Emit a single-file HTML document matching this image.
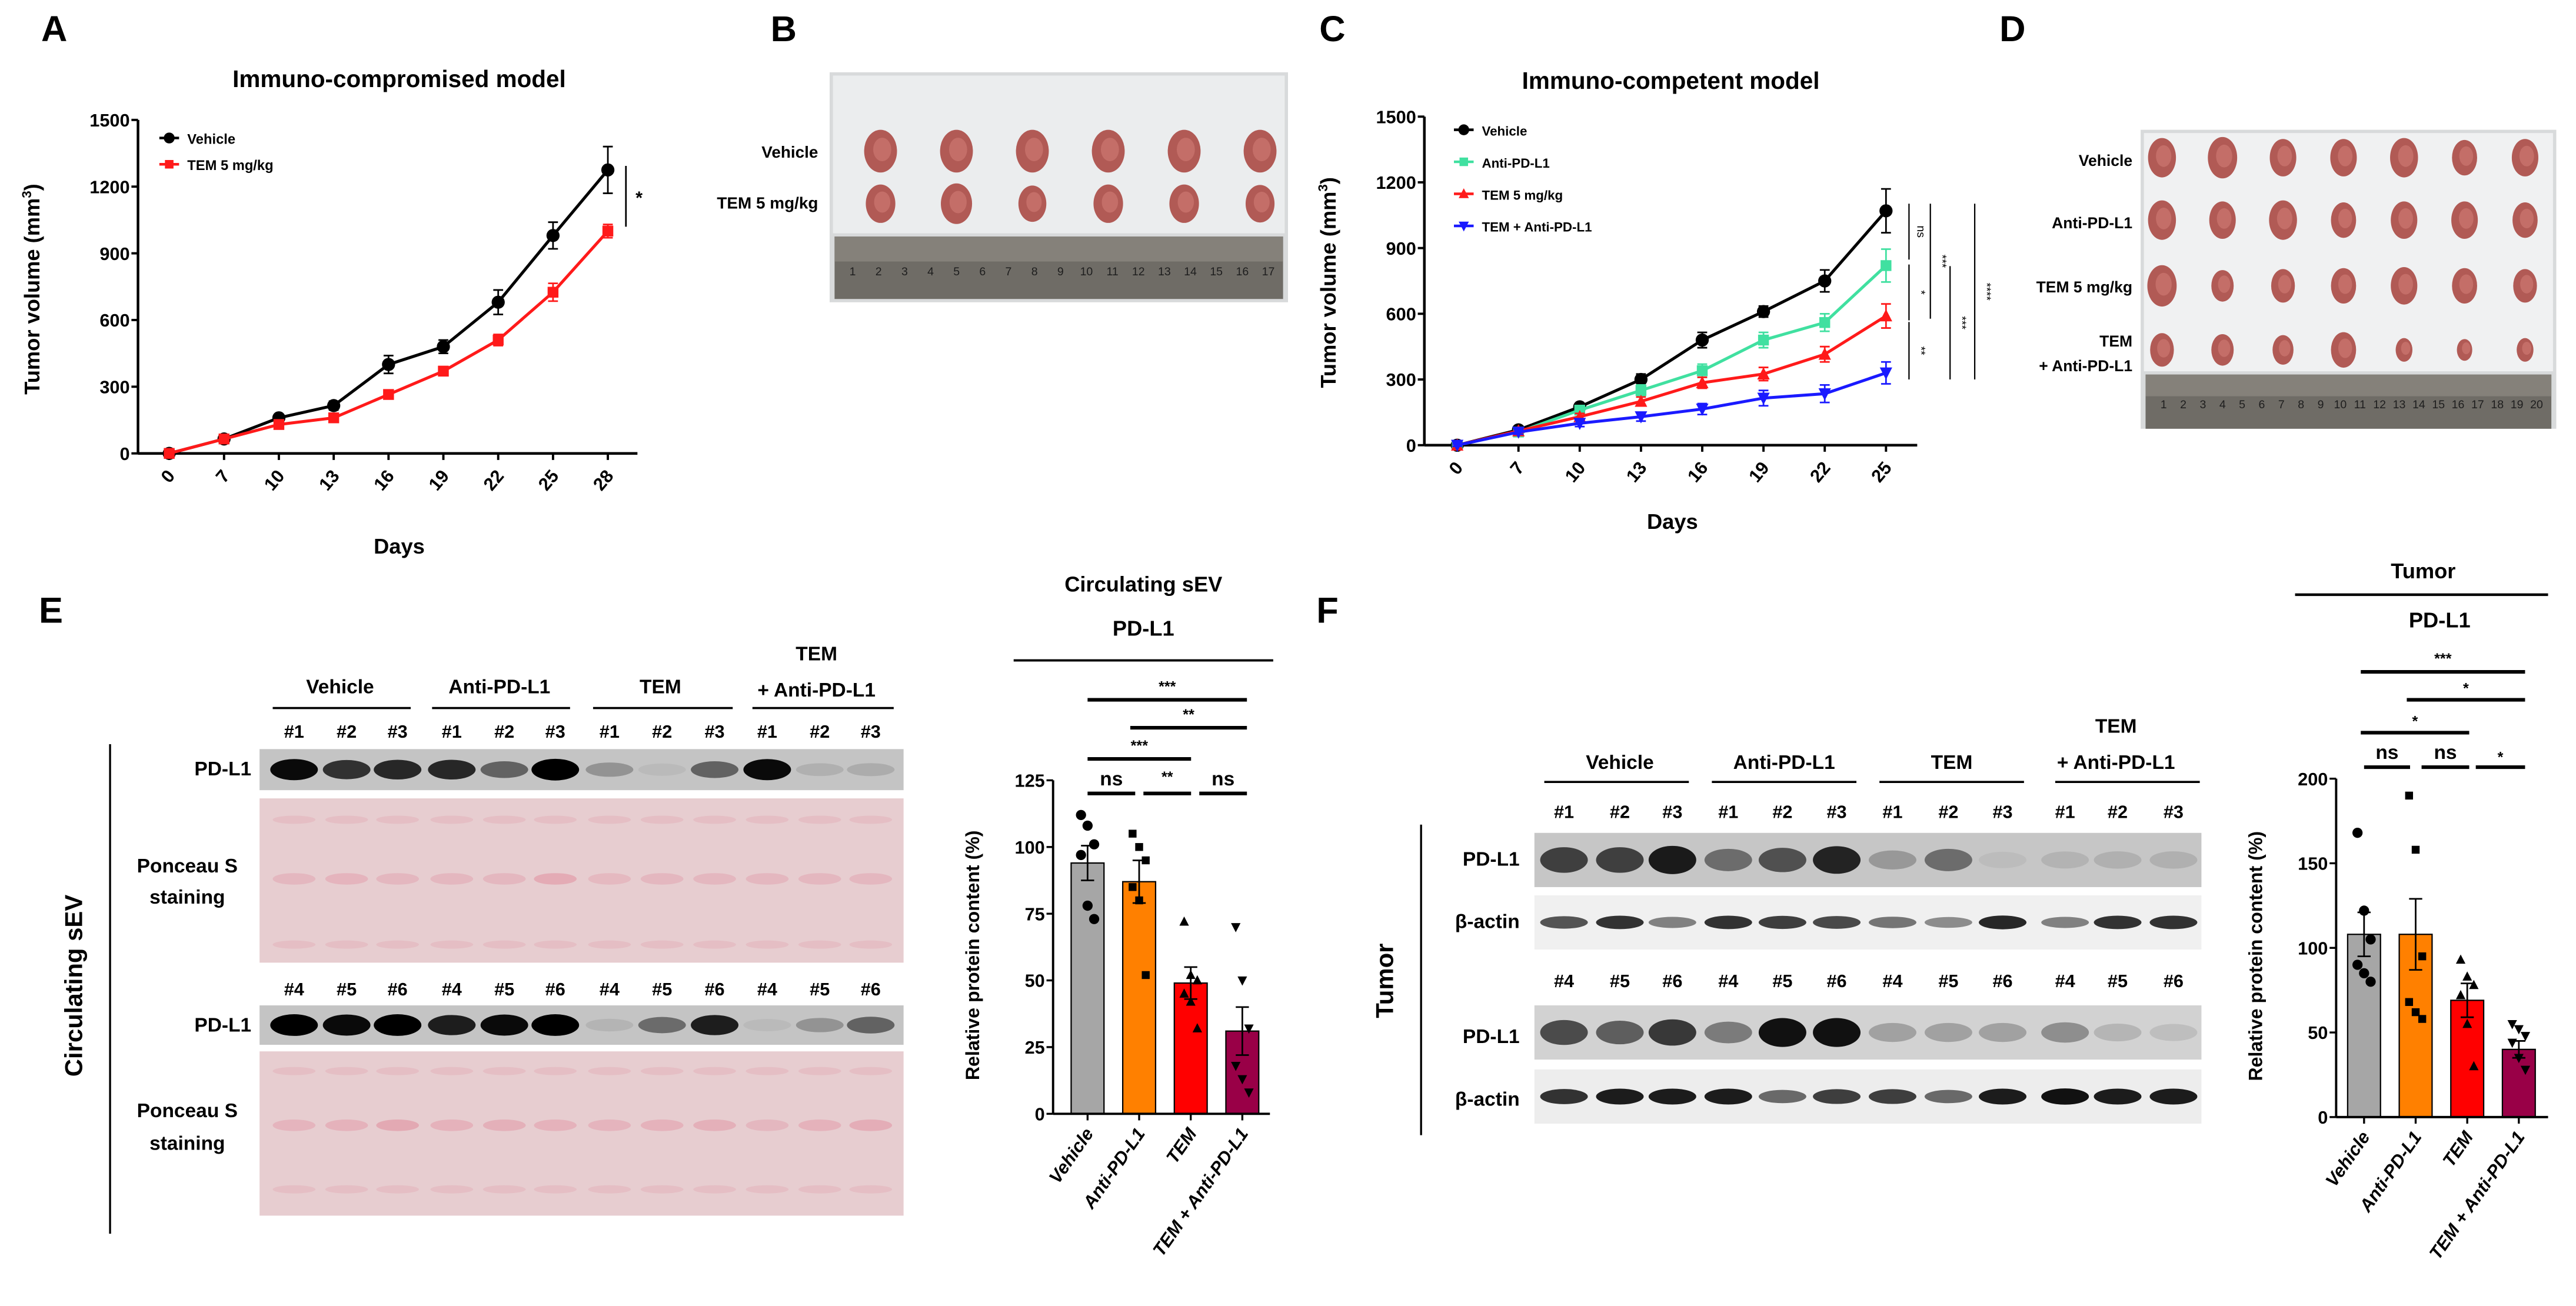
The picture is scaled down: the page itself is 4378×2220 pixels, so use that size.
<!DOCTYPE html>
<html><head><meta charset="utf-8"><style>
html,body{margin:0;padding:0;background:#fff;}
svg{display:block;font-family:"Liberation Sans",sans-serif;font-weight:bold;}
</style></head><body>
<svg id="fig" width="4378" height="2220" viewBox="0 0 1568 795" preserveAspectRatio="none" xmlns="http://www.w3.org/2000/svg">
<rect width="1568" height="795" fill="#fff"/>
<g id="root"></g>
</svg>
<script>
// ===== Panel A data =====
const daysA = [0,7,10,13,16,19,22,25,28];
const vehA = [0,65,160,215,400,480,680,980,1275];
const vehAErr = [5,10,15,20,40,30,55,60,105];
const temA = [0,65,130,160,265,370,510,725,1000];
const temAErr = [5,10,12,15,20,20,25,40,30];
const yTicksA = [0,300,600,900,1200,1500];
// ===== Panel C data =====
const daysC = [0,7,10,13,16,19,22,25];
const vehC = [0,70,175,300,480,610,750,1070];
const vehCErr = [5,10,15,25,35,25,50,100];
const antiC = [0,60,160,250,340,480,560,820];
const antiCErr = [5,10,15,25,30,35,40,75];
const temC = [0,65,130,200,285,325,415,590];
const temCErr = [5,10,15,20,25,30,35,55];
const comboC = [0,60,100,130,165,215,235,330];
const comboCErr = [5,10,15,20,25,35,40,50];
// ===== Panel E bar data =====
const barCats = ["Vehicle","Anti-PD-L1","TEM","TEM + Anti-PD-L1"];
const barColors = ["#a6a6a6","#ff8000","#ff0000","#990047"];
const meansE = [94,87,49,31];
const errE = [6.5,8,6,9];
const ptsE = [[112,108,101,97,78,73],[105,100,95,85,80,52],[72,52,50,45,42,32],[70,50,32,18,13,8]];
const yTicksE = [0,25,50,75,100,125];
// ===== Panel F bar data =====
const meansF = [108,108,69,40];
const errF = [13,21,10,5];
const ptsF = [[168,122,105,90,85,80],[190,158,95,68,62,58],[93,83,78,72,55,30],[55,52,48,44,35,28]];
const yTicksF = [0,50,100,150,200];
// blot intensities (0..1)
const eBlot1 = [0.95,0.75,0.8,0.8,0.5,1,0.25,0.05,0.5,0.95,0.1,0.12];
const eBlot2 = [1,0.95,1,0.85,0.95,1,0.08,0.45,0.85,0.05,0.25,0.5];
const fPd1 = [0.75,0.75,0.95,0.5,0.65,0.9,0.25,0.5,0.05,0.1,0.12,0.12];
const fAct1 = [0.7,0.85,0.5,0.85,0.8,0.75,0.55,0.45,0.9,0.5,0.85,0.85];
const fPd2 = [0.7,0.6,0.8,0.45,1,1,0.25,0.25,0.25,0.35,0.15,0.1];
const fAct2 = [0.85,0.95,0.95,0.95,0.6,0.8,0.8,0.6,0.95,1,0.95,0.95];

const NS="http://www.w3.org/2000/svg";
const root=document.getElementById('root');
function mk(tag,attrs,parent,text){const e=document.createElementNS(NS,tag);for(const k in attrs)e.setAttribute(k,attrs[k]);if(text!==undefined)e.textContent=text;(parent||root).appendChild(e);return e;}
function txt(x,y,s,size,opts){opts=opts||{};const e=mk('text',{x:x,y:y,'font-size':size,'text-anchor':opts.anchor||'middle',fill:opts.fill||'#000'},opts.parent,s);if(opts.rot!==undefined)e.setAttribute('transform','rotate('+opts.rot+' '+x+' '+y+')');if(opts.italic)e.setAttribute('font-style','italic');if(opts.weight)e.setAttribute('font-weight',opts.weight);return e;}

// ---- panel letters
[["A",33,25],["B",477,25],["C",811,25],["D",1225,25],["E",31,379],["F",808,379]].forEach(p=>{
 const t=txt(p[1],p[2],p[0],22);
 
 
});

// ---- generic line chart
function lineChart(cfg){
 const g=mk('g',{});
 
 
 const X=i=>cfg.x0+(cfg.x1-cfg.x0)*i/(cfg.days.length-1);
 const Y=v=>cfg.yb-(cfg.yb-cfg.yt)*v/1500;
 mk('line',{x1:cfg.ax,y1:cfg.yt,x2:cfg.ax,y2:cfg.yb,stroke:'#000','stroke-width':1.6},g);
 mk('line',{x1:cfg.ax,y1:cfg.yb,x2:cfg.xe,y2:cfg.yb,stroke:'#000','stroke-width':1.6},g);
 yTicksA.forEach(v=>{mk('line',{x1:cfg.ax-4,y1:Y(v),x2:cfg.ax,y2:Y(v),stroke:'#000','stroke-width':1.4},g);
  const t=txt(cfg.ax-5,Y(v)+4,String(v),11,{anchor:'end',parent:g});});
 cfg.days.forEach((d,i)=>{mk('line',{x1:X(i),y1:cfg.yb,x2:X(i),y2:cfg.yb+4,stroke:'#000','stroke-width':1.4},g);
  const t=txt(X(i)+4,cfg.yb+14,String(d),11,{anchor:'end',rot:-50,parent:g});});
 cfg.series.forEach(s=>{
  const sg=mk('g',{},g);
  
  
  mk('polyline',{points:s.vals.map((v,i)=>X(i)+','+Y(v)).join(' '),fill:'none',stroke:s.color,'stroke-width':1.8},sg);
  s.vals.forEach((v,i)=>{
   const e=s.err[i];
   mk('line',{x1:X(i),y1:Y(v+e),x2:X(i),y2:Y(v-e),stroke:s.color,'stroke-width':1},sg);
   mk('line',{x1:X(i)-3,y1:Y(v+e),x2:X(i)+3,y2:Y(v+e),stroke:s.color,'stroke-width':1},sg);
   mk('line',{x1:X(i)-3,y1:Y(v-e),x2:X(i)+3,y2:Y(v-e),stroke:s.color,'stroke-width':1},sg);
   drawMarker(sg,s.marker,X(i),Y(v),s.color,3.3);
  });
 });
 cfg.series.forEach((s,k)=>{
  const ly=cfg.ly+k*cfg.lstep;
  const lg=mk('g',{},g);
  
  
  mk('line',{x1:cfg.lx-6,y1:ly,x2:cfg.lx+6,y2:ly,stroke:s.color,'stroke-width':1.6},lg);
  drawMarker(lg,s.marker,cfg.lx,ly,s.color,2.6);
  txt(cfg.lx+11,ly+3.5,s.label,cfg.lfs,{anchor:'start',parent:lg});
 });
 return {g,X,Y};
}
function drawMarker(p,m,x,y,c,r){
 if(m==='circle')mk('circle',{cx:x,cy:y,r:r+0.7,fill:c},p);
 else if(m==='square')mk('rect',{x:x-r,y:y-r,width:2*r,height:2*r,fill:c},p);
 else if(m==='tri')mk('polygon',{points:`${x},${y-r-0.8} ${x-r-0.5},${y+r} ${x+r+0.5},${y+r}`,fill:c},p);
 else if(m==='tridown')mk('polygon',{points:`${x},${y+r+0.8} ${x-r-0.5},${y-r} ${x+r+0.5},${y-r}`,fill:c},p);
}

// ---- Panel A
const tA=txt(243,53,"Immuno-compromised model",14.5);
const A=lineChart({name:'tumor-growth-chart-a',days:daysA,ax:84,yt:73,yb:276,x0:103,x1:370,xe:388,lx:103,ly:84,lstep:16,lfs:8.5,
 series:[{key:'vehicle',label:'Vehicle',vals:vehA,err:vehAErr,color:'#000',marker:'circle'},
         {key:'tem',label:'TEM 5 mg/kg',vals:temA,err:temAErr,color:'#ff1a1a',marker:'square'}]});
let t=txt(243,337,"Days",13);
t=mk('text',{x:24,y:176,'font-size':13,'text-anchor':'middle',transform:'rotate(-90 24 176)'});t.innerHTML='Tumor volume (mm<tspan dy="-5" font-size="8">3</tspan><tspan dy="5">)</tspan>';

mk('line',{x1:381,y1:101,x2:381,y2:138,stroke:'#000','stroke-width':1});
t=txt(389,124,"*",11);

// ---- Panel B photo
function tumorPhoto(name,x,y,w,h,rows,cols,x0,x1,rowY,rx,ry,rulerY,rulerH,nums,bg){
 const g=mk('g',{});
 
 
 mk('rect',{x:x,y:y,width:w,height:h,fill:'#d8dadb'},g);
 mk('rect',{x:x+2,y:y+2,width:w-4,height:rulerY-y-4,fill:bg},g);
 rows.forEach((r,ri)=>{for(let c=0;c<cols;c++){const cx=x0+(x1-x0)*c/(cols-1);const s=r[c]||1;
  mk('ellipse',{cx:cx,cy:rowY[ri],rx:rx*s,ry:ry*s,fill:'#b15a55'},g);
  mk('ellipse',{cx:cx+1,cy:rowY[ri]-1,rx:rx*s*0.55,ry:ry*s*0.55,fill:'#c46e68'},g);}});
 mk('rect',{x:x+3,y:rulerY,width:w-6,height:rulerH,fill:'#6f6c66'},g);
 mk('rect',{x:x+3,y:rulerY,width:w-6,height:rulerH*0.4,fill:'#85817a'},g);
 for(let i=0;i<nums;i++){txt(x+14+(w-26)*i/(nums-1),rulerY+rulerH*0.62,String(i+1),7,{parent:g,fill:'#1e1e1e',weight:'normal'});}
 return g;
}
tumorPhoto('tumor-photo-b',505,44,279,140,[[1,1,1,1,1,1],[0.9,0.95,0.85,0.9,0.9,0.88]],6,536,767,[92,124],10,13,144,38,17,'#ebedee');
[["Vehicle",92],["TEM 5 mg/kg",123]].forEach(l=>{const e=txt(498,l[1]+4,l[0],10,{anchor:'end'});});

// ---- Panel C
const tC=txt(1017,54,"Immuno-competent model",14.5);
const C=lineChart({name:'tumor-growth-chart-c',days:daysC,ax:867,yt:71,yb:271,x0:887,x1:1148,xe:1167,lx:891,ly:79,lstep:19.5,lfs:8,
 series:[{key:'vehicle',label:'Vehicle',vals:vehC,err:vehCErr,color:'#000',marker:'circle'},
         {key:'anti-pd-l1',label:'Anti-PD-L1',vals:antiC,err:antiCErr,color:'#40e0a0',marker:'square'},
         {key:'tem',label:'TEM 5 mg/kg',vals:temC,err:temCErr,color:'#ff1a1a',marker:'tri'},
         {key:'tem-anti',label:'TEM + Anti-PD-L1',vals:comboC,err:comboCErr,color:'#1a1aff',marker:'tridown'}]});
t=txt(1018,322,"Days",13);
t=mk('text',{x:813,y:172,'font-size':13,'text-anchor':'middle',transform:'rotate(-90 813 172)'});t.innerHTML='Tumor volume (mm<tspan dy="-5" font-size="8">3</tspan><tspan dy="5">)</tspan>';

[[1162,124,158,'ns'],[1162,161,195,'*'],[1162,196,231,'**'],[1175,124,194,'***'],[1187,162,231,'***'],[1202,124,231,'****']].forEach(s=>{
 mk('line',{x1:s[0],y1:s[1],x2:s[0],y2:s[2],stroke:'#000','stroke-width':0.8});
 const e=txt(s[0]+5,(s[1]+s[2])/2,s[3],7,{rot:90,weight:'normal'});
 
 
});

// ---- Panel D photo
tumorPhoto('tumor-photo-d',1303,79,253,182,[[1,1.05,0.95,0.95,1,0.9,0.95],[1,0.95,1,0.9,0.95,0.95,0.9],[1.05,0.8,0.85,0.9,0.95,0.9,0.85],[0.85,0.8,0.75,0.9,0.6,0.55,0.6]],7,1316,1537,[96,134,174,213],8.5,12,228,33,20,'#f0f1f2');
[["Vehicle",97],["Anti-PD-L1",135],["TEM 5 mg/kg",174],["TEM",207],["+ Anti-PD-L1",222]].forEach(l=>{const e=txt(1298,l[1]+4,l[0],9.5,{anchor:'end'});});

// ---- Blots
function blot(name,x,y,w,h,cols,vals,bg,band,bh){
 const g=mk('g',{});
 
 
 mk('rect',{x:x,y:y,width:w,height:h,fill:bg},g);
 cols.forEach((cx,i)=>{const v=vals[i];mk('ellipse',{cx:cx,cy:y+h/2,rx:14.5,ry:bh*(0.6+0.5*v),fill:band,'fill-opacity':v},g);});
 return g;
}
function ponceau(name,x,y,w,h,cols,rowsY,strong){
 const g=mk('g',{});
 
 
 mk('rect',{x:x,y:y,width:w,height:h,fill:'#e7cdd0'},g);
 cols.forEach((cx,i)=>{rowsY.forEach((ry,k)=>{mk('ellipse',{cx:cx,cy:ry,rx:13,ry:k===1?3.5:2.5,fill:'#e29aa8','fill-opacity':k===1?(0.35+0.45*strong[i]):0.3},g);});});
 return g;
}
// Panel E
const colsE=[179,211,242,275,307,338,371,403,435,467,499,530];
[["Vehicle",207,422],["Anti-PD-L1",304,422],["TEM",402,422],["TEM",497,402],["+ Anti-PD-L1",497,424]].forEach(l=>{const e=txt(l[1],l[2],l[0],12);});
[[166,250],[263,347],[361,446],[458,544]].forEach(s=>mk('line',{x1:s[0],y1:431,x2:s[1],y2:431,stroke:'#000','stroke-width':1.3}));
colsE.forEach((cx,i)=>{const e=txt(cx,449,'#'+(i%3+1),11);
 const f=txt(cx,606,'#'+(i%3+4),11);});
blot('pd-l1-blot-e1',158,456,392,25,colsE,eBlot1,'#c4c4c4','#000',6);
ponceau('ponceau-stain-e1',158,486,392,100,colsE,[499,535,575],[0.2,0.3,0.2,0.2,0.2,0.7,0.1,0.2,0.2,0.2,0.2,0.2]);
blot('pd-l1-blot-e2',158,612,392,24,colsE,eBlot2,'#c4c4c4','#000',6);
ponceau('ponceau-stain-e2',158,640,392,100,colsE,[652,685,724],[0.3,0.4,0.8,0.4,0.5,0.4,0.3,0.4,0.5,0.2,0.4,0.6]);
[["PD-L1",153,472],["PD-L1",153,628]].forEach(l=>{const e=txt(l[1],l[2],l[0],12,{anchor:'end'});});
[["Ponceau S",114,531],["staining",114,550],["Ponceau S",114,680],["staining",114,700]].forEach(l=>{const e=txt(l[1],l[2],l[0],12);});
mk('line',{x1:67,y1:453,x2:67,y2:751,stroke:'#000','stroke-width':1.2});
t=txt(50,600,"Circulating sEV",15,{rot:-90});

// Panel F
const colsF=[952,986,1018,1052,1085,1118,1152,1186,1219,1257,1289,1323];
[["Vehicle",986,468],["Anti-PD-L1",1086,468],["TEM",1188,468],["TEM",1288,446],["+ Anti-PD-L1",1288,468]].forEach(l=>{const e=txt(l[1],l[2],l[0],12);});
[[940,1028],[1042,1130],[1144,1232],[1251,1339]].forEach(s=>mk('line',{x1:s[0],y1:476,x2:s[1],y2:476,stroke:'#000','stroke-width':1.3}));
colsF.forEach((cx,i)=>{const e=txt(cx,498,'#'+(i%3+1),11);
 const f=txt(cx,601,'#'+(i%3+4),11);});
blot('pd-l1-blot-f1',934,507,406,33,colsF,fPd1,'#c6c6c6','#111',8);
blot('actin-blot-f1',934,545,406,33,colsF,fAct1,'#f0f0f0','#111',4);
blot('pd-l1-blot-f2',934,612,406,33,colsF,fPd2,'#d2d2d2','#111',8);
blot('actin-blot-f2',934,651,406,33,colsF,fAct2,'#ededed','#111',4.5);
[["PD-L1",925,527],["β-actin",925,565],["PD-L1",925,635],["β-actin",925,673]].forEach(l=>{const e=txt(l[1],l[2],l[0],12,{anchor:'end'});});
mk('line',{x1:865,y1:502,x2:865,y2:691,stroke:'#000','stroke-width':1.2});
t=txt(848,597,"Tumor",15,{rot:-90});

// ---- bar chart
function barChart(cfg){
 const g=mk('g',{});
 
 
 const Y=v=>cfg.yb-(cfg.yb-cfg.yt)*v/cfg.ymax;
 const X=i=>cfg.x0+cfg.step*i;
 cfg.means.forEach((m,i)=>{
  const b=mk('rect',{x:X(i)-10,y:Y(m),width:20,height:cfg.yb-Y(m),fill:barColors[i],stroke:'#000','stroke-width':0.8},g);
  
  
  const e=cfg.err[i];
  mk('line',{x1:X(i),y1:Y(m+e),x2:X(i),y2:Y(m-e),stroke:'#000','stroke-width':1},g);
  mk('line',{x1:X(i)-4,y1:Y(m+e),x2:X(i)+4,y2:Y(m+e),stroke:'#000','stroke-width':1},g);
  mk('line',{x1:X(i)-4,y1:Y(m-e),x2:X(i)+4,y2:Y(m-e),stroke:'#000','stroke-width':1},g);
  const mks=['circle','square','tri','tridown'];
  cfg.pts[i].forEach((p,k)=>{drawMarker(g,mks[i],X(i)+((k%3)-1)*4,Y(p),'#000',2.4);});
  const t=txt(X(i)+4,cfg.yb+12,barCats[i],11,{anchor:'end',rot:-55,italic:true,parent:g});
  
  mk('line',{x1:X(i),y1:cfg.yb,x2:X(i),y2:cfg.yb+4,stroke:'#000','stroke-width':1.2},g);
 });
 mk('line',{x1:cfg.ax,y1:cfg.yt,x2:cfg.ax,y2:cfg.yb,stroke:'#000','stroke-width':1.4},g);
 mk('line',{x1:cfg.ax,y1:cfg.yb,x2:cfg.xe,y2:cfg.yb,stroke:'#000','stroke-width':1.4},g);
 cfg.ticks.forEach(v=>{mk('line',{x1:cfg.ax-4,y1:Y(v),x2:cfg.ax,y2:Y(v),stroke:'#000','stroke-width':1.2},g);
  const t=txt(cfg.ax-5,Y(v)+4,String(v),11,{anchor:'end',parent:g});});
 const yl=txt(cfg.ylx,(cfg.yt+cfg.yb)/2+5,"Relative protein content (%)",11.5,{rot:-90,parent:g});
 
 return g;
}
// Panel E chart
barChart({name:'bar-chart-e',means:meansE,err:errE,pts:ptsE,yt:475,yb:678,ymax:125,x0:662,step:31.4,ax:641,xe:773,ticks:yTicksE,ylx:596});
[[662,691,483,'ns',478],[696,725,483,'**',476],[730,759,483,'ns',478],[662,725,462,'***',457],[688,759,443,'**',438],[662,759,426,'***',421]].forEach(s=>{
 mk('line',{x1:s[0],y1:s[2],x2:s[1],y2:s[2],stroke:'#000','stroke-width':2.2});
 const e=txt((s[0]+s[1])/2,s[4],s[3],s[3]==='ns'?12:9);});
t=txt(696,360,"Circulating sEV",13);
t=txt(696,387,"PD-L1",13);
mk('line',{x1:617,y1:402,x2:775,y2:402,stroke:'#000','stroke-width':1.4});

// Panel F chart
barChart({name:'bar-chart-f',means:meansF,err:errF,pts:ptsF,yt:474,yb:680,ymax:200,x0:1439,step:31.4,ax:1422,xe:1551,ticks:yTicksF,ylx:1377});
[[1439,1467,467,'ns',462],[1474,1503,467,'ns',462],[1507,1537,467,'*',464],[1437,1503,446,'*',442],[1465,1537,426,'*',422],[1437,1537,409,'***',404]].forEach(s=>{
 mk('line',{x1:s[0],y1:s[2],x2:s[1],y2:s[2],stroke:'#000','stroke-width':2.2});
 const e=txt((s[0]+s[1])/2,s[4],s[3],s[3]==='ns'?12:9);});
t=txt(1475,352,"Tumor",13);
t=txt(1485,382,"PD-L1",13);
mk('line',{x1:1397,y1:362,x2:1551,y2:362,stroke:'#000','stroke-width':1.6});
</script>
</body></html>
